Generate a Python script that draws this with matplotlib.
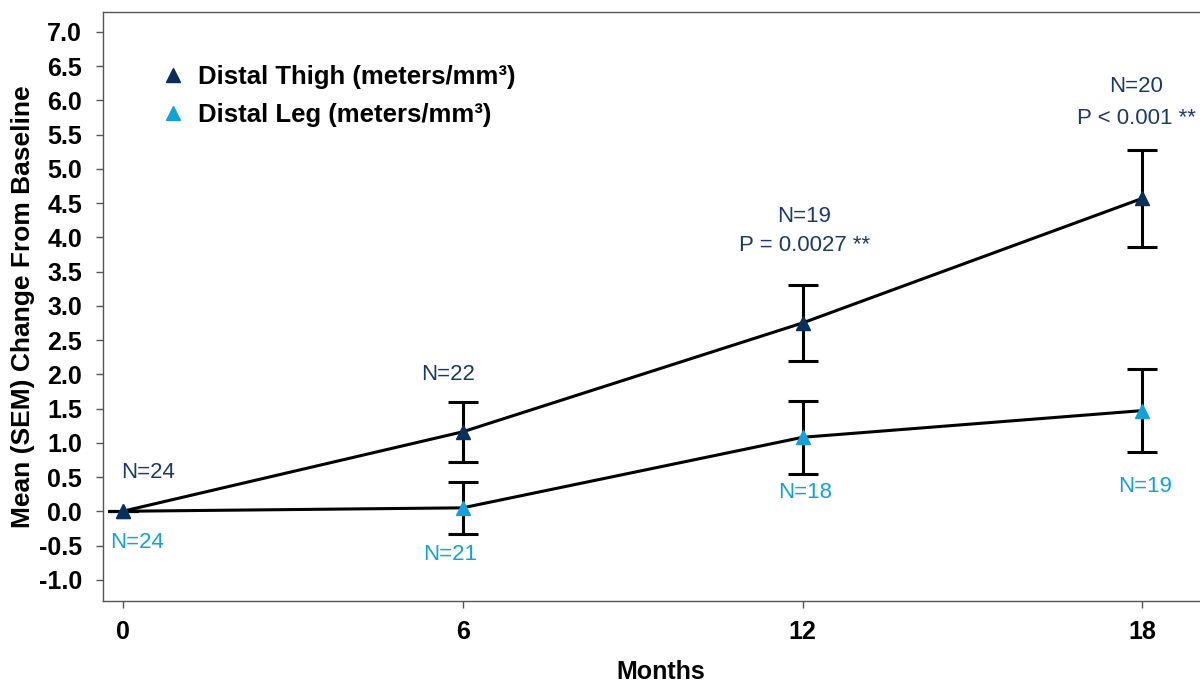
import matplotlib
matplotlib.use("Agg")
import matplotlib.pyplot as plt
from matplotlib.lines import Line2D

plt.rcParams['font.family'] = ['Liberation Sans', 'DejaVu Sans']

months = [0, 6, 12, 18]
thigh_mean = [0.0, 1.16, 2.75, 4.57]
thigh_sem = [0.0, 0.44, 0.55, 0.71]
leg_mean = [0.0, 0.05, 1.08, 1.47]
leg_sem = [0.0, 0.38, 0.53, 0.60]
thigh_n = ["N=24", "N=22", "N=19", "N=20"]
thigh_p = ["", "", "P = 0.0027 **", "P < 0.001 **"]
leg_n = ["N=24", "N=21", "N=18", "N=19"]
yticks = [-1.0, -0.5, 0.0, 0.5, 1.0, 1.5, 2.0, 2.5, 3.0, 3.5, 4.0, 4.5, 5.0, 5.5, 6.0, 6.5, 7.0]
series_names = ["Distal Thigh (meters/mm³)", "Distal Leg (meters/mm³)"]

navy = "#0b2f5b"
light = "#12a2d9"
textnavy = "#1b3a6b"

fig = plt.figure(figsize=(12, 6.82), dpi=100)
ax = fig.add_axes([0.0858, 0.1188, 0.93, 0.8636])

for mean, sem in ((leg_mean, leg_sem), (thigh_mean, thigh_sem)):
    ax.errorbar(months, mean, yerr=sem, color="black", lw=2.2, capsize=10.5,
                capthick=2.2, elinewidth=2.2, zorder=2)
ax.plot(months, leg_mean, linestyle="none", marker="^", ms=10, color=light, zorder=3)
ax.plot(months, thigh_mean, linestyle="none", marker="^", ms=10, color=navy, zorder=4)

ax.set_xlim(-0.35, 19.35)
ax.set_ylim(-1.31, 7.29)
ax.set_xticks(months)
ax.set_xticklabels([str(m) for m in months], fontsize=18, fontweight="bold")
ax.set_yticks(yticks)
ax.set_yticklabels([f"{v:.1f}" for v in yticks], fontsize=18, fontweight="bold")
ax.tick_params(axis="both", direction="out", length=5, width=1, color="#555555")
ax.tick_params(axis="x", pad=9)
ax.tick_params(axis="y", pad=10)
for s in ax.spines.values():
    s.set_color("#555555")
    s.set_linewidth(1)

ax.set_xlabel("Months", fontsize=18, fontweight="bold", labelpad=11)
ax.set_ylabel("Mean (SEM) Change From Baseline", fontsize=19, fontweight="bold", labelpad=3)

# annotation offsets (layout only)
thigh_n_off = [(0.44, 0.56), (-0.25, 0.39), (0.03, 1.0), (-0.11, 0.92)]
thigh_p_off = [None, None, (0.03, 0.58), (-0.11, 0.46)]
leg_n_off = [(0.26, -0.46), (-0.23, -0.30), (0.04, -0.28), (0.04, -0.51)]

for i, x in enumerate(months):
    top = thigh_mean[i] + thigh_sem[i]
    dx, dy = thigh_n_off[i]
    ax.text(x + dx, (top if thigh_sem[i] > 0 else thigh_mean[i]) + dy, thigh_n[i],
            ha="center", va="center", fontsize=16, color=textnavy)
    if thigh_p[i]:
        dx, dy = thigh_p_off[i]
        ax.text(x + dx, top + dy, thigh_p[i], ha="center", va="center",
                fontsize=16, color=textnavy)
    bot = leg_mean[i] - leg_sem[i]
    dx, dy = leg_n_off[i]
    ax.text(x + dx, bot + dy, leg_n[i], ha="center", va="center", fontsize=16, color=light)

handles = [Line2D([], [], linestyle="none", marker="^", ms=10, color=navy),
           Line2D([], [], linestyle="none", marker="^", ms=10, color=light)]
ax.legend(handles, series_names, loc="upper left", bbox_to_anchor=(0.051, 0.91),
          frameon=False, prop={"size": 18.5, "weight": "bold"}, handlelength=1.0,
          handletextpad=0.5, labelspacing=0.55, borderpad=0, borderaxespad=0)

fig.savefig("out.png", dpi=100)
